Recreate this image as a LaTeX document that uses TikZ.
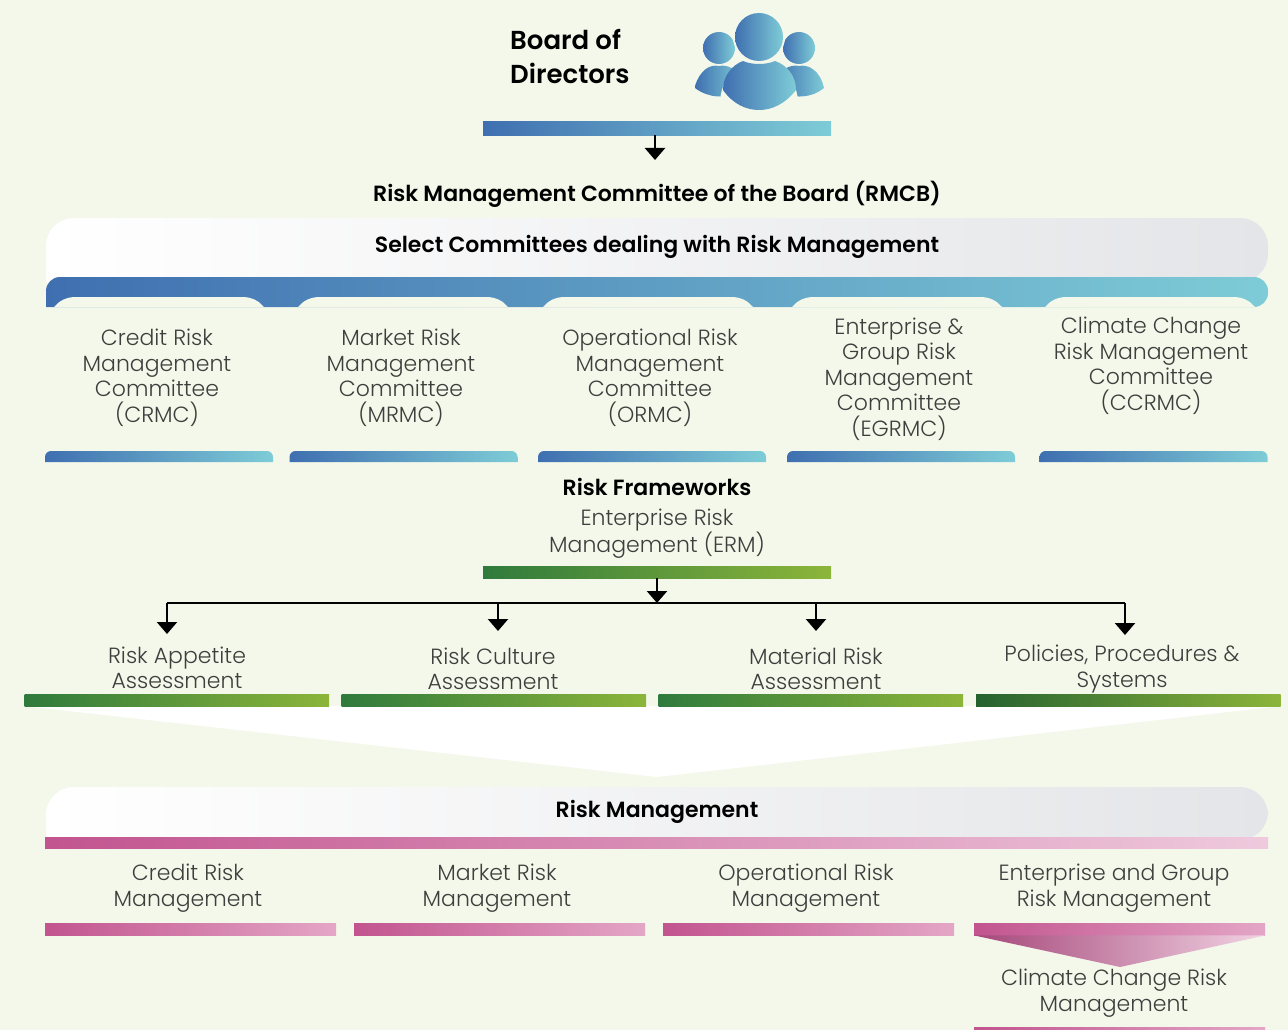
\documentclass[tikz,border=0pt]{standalone}
\usepackage{fontspec}
\setmainfont{Poppins}[UprightFont=* Light,BoldFont=* SemiBold]
\usetikzlibrary{positioning,arrows.meta,calc}

\definecolor{pagebg}{HTML}{F4F8EB}
\definecolor{txtgrey}{HTML}{3C3F3C}
\definecolor{blueL}{HTML}{3F6FB0}
\definecolor{blueR}{HTML}{7ECCD7}
\definecolor{greenL}{HTML}{2F7A3C}
\definecolor{greenR}{HTML}{8CB53A}
\definecolor{pinkL}{HTML}{C2548F}
\definecolor{pinkR}{HTML}{E4A6C6}
\definecolor{panelR}{HTML}{E4E5E8}

\tikzset{
  boxtext/.style={align=center,text=txtgrey,inner sep=0pt,font=\fontsize{22}{25.5}\selectfont},
  headtext/.style={align=center,text=black,inner sep=0pt,font=\fontsize{22}{26}\selectfont\bfseries},
  bluegrad/.style={left color=blueL,right color=blueR},
  panelgrad/.style={left color=white,right color=panelR},
  bluebar/.style={rectangle,inner sep=0pt,anchor=north west,minimum height=14pt,minimum width=348pt,bluegrad},
  greenbar/.style={rectangle,inner sep=0pt,anchor=north west,minimum height=12pt,minimum width=304.5pt,left color=greenL,right color=greenR},
  pinkbar/.style={rectangle,inner sep=0pt,anchor=north west,minimum height=12pt,minimum width=291pt,left color=pinkL,right color=pinkR},
  downarrow/.style={-{Triangle[width=20pt,length=12pt]},line width=2.5pt,black},
}

\begin{document}
\begin{tikzpicture}[x=1pt,y=-1pt]
  \fill[pagebg] (0,0) rectangle (1288,1030);
  \useasboundingbox (0,0) rectangle (1288,1030);

  % board
  \node[headtext,align=left,anchor=west,font=\fontsize{26}{34}\selectfont\bfseries] (board) at (510,56) {Board of\\Directors};
  \shade[bluegrad] (695,86) .. controls (700,70) and (710,64) .. (719,66) .. controls (728,64) and (738,70) .. (742,80) -- (742,92) .. controls (725,99) and (708,98) .. (695,88) -- cycle;
  \shade[bluegrad] (776,80) .. controls (780,70) and (790,64) .. (799,66) .. controls (808,64) and (820,70) .. (824,88) .. controls (812,98) and (795,99) .. (776,92) -- cycle;
  \shade[bluegrad] (703,32) rectangle (703,32);
  \shade[bluegrad] (719,48) circle (16);
  \shade[bluegrad] (799,48) circle (16);
  \fill[pagebg] (759,37) circle (26);
  \fill[pagebg] (759,104) ellipse (39 and 45);
  \shade[bluegrad] (759,37) circle (24);
  \shade[bluegrad] (723,90) .. controls (723,76) and (732,65) .. (743,61) .. controls (752,65) and (766,65) .. (775,61) .. controls (787,65) and (796,76) .. (796,90) .. controls (785,104) and (772,110) .. (759,110) .. controls (746,110) and (733,104) .. (723,90) -- cycle;

  \node[bluebar] (boardbar) at (483,121) {};
  \coordinate (boardend) at (655,160);
  \draw[downarrow] (boardbar.south -| boardend) -- (boardend);
  \node[headtext] (rmcb) at (657,194) {Risk Management Committee of the Board (RMCB)};

  % select committees
  \shade[panelgrad] (46,282) [rounded corners=28pt] -- (46,218) -- (1268,218) [sharp corners] [rounded corners=28pt] -- (1268,282) [sharp corners] -- cycle;
  \node[headtext] (select) at (657,247) {Select Committees dealing with Risk Management};
  \shade[bluegrad] (46,307) [rounded corners=14pt] -- (46,277) -- (1268,277) -- (1268,307) [sharp corners] -- cycle;
  \foreach \x in {54,298,543,792,1045}
    \fill[pagebg] (\x,307) .. controls (\x+5,301) and (\x+12,297) .. (\x+22,297) -- (\x+188,297) .. controls (\x+198,297) and (\x+205,301) .. (\x+210,307) -- cycle;

  \node[boxtext] (crmc) at (157,378) {Credit Risk\\Management\\Committee\\(CRMC)};
  \node[boxtext] (mrmc) at (401,378) {Market Risk\\Management\\Committee\\(MRMC)};
  \node[boxtext] (ormc) at (650,378) {Operational Risk\\Management\\Committee\\(ORMC)};
  \node[boxtext] (egrmc) at (899,379) {Enterprise \&\\Group Risk\\Management\\Committee\\(EGRMC)};
  \node[boxtext] (ccrmc) at (1151,366) {Climate Change\\Risk Management\\Committee\\(CCRMC)};
  \foreach \x in {45,289.5,538,787,1039.5}
    \shade[bluegrad] (\x,462) [rounded corners=6pt] -- (\x,451) -- (\x+228,451) [sharp corners] -- (\x+228,462) -- cycle;

  % frameworks
  \node[headtext] (frameworks) at (657,487) {Risk Frameworks};
  \node[boxtext] (erm) at (657,534) {Enterprise Risk\\Management (ERM)};
  \node[greenbar,minimum width=348pt] (ermbar) at (483,566) {};

  \coordinate (bus) at (657,603);
  \draw[line width=2.5pt] (167,603) -- (1125,603);
  \coordinate (append) at (167,634);
  \coordinate (culend) at (498,631);
  \coordinate (matend) at (816,631);
  \coordinate (polend) at (1125,635);
  \draw[downarrow] (ermbar.south -| bus) -- (bus);
  \draw[downarrow] (append |- bus) -- (append);
  \draw[downarrow] (culend |- bus) -- (culend);
  \draw[downarrow] (matend |- bus) -- (matend);
  \draw[downarrow] (polend |- bus) -- (polend);

  \node[boxtext] (appetite) at (177,668) {Risk Appetite\\Assessment};
  \node[boxtext] (culture) at (493,669) {Risk Culture\\Assessment};
  \node[boxtext] (material) at (816,669) {Material Risk\\Assessment};
  \node[boxtext] (policies) at (1122,669) {Policies, Procedures \&\\Systems};

  \fill[white] (24,706) -- (1281,706) -- (657,777) -- cycle;
  \node[greenbar] (appbar) at (24.5,694) {};
  \node[greenbar] (culbar) at (341.5,694) {};
  \node[greenbar] (matbar) at (658.5,694) {};
  \node[greenbar,left color=greenL!80!black] (polbar) at (976,694) {};

  % risk management
  \shade[panelgrad] (46,840) [rounded corners=28pt] -- (46,787) -- (1268,787) [sharp corners] [rounded corners=28pt] -- (1268,840) [sharp corners] -- cycle;
  \node[headtext] (riskmgmt) at (657,812) {Risk Management};
  \node[pinkbar,minimum width=1223pt,minimum height=11pt,right color=pinkR!60!white] (pinkband) at (45,837) {};

  \node[boxtext] (credit) at (188,888) {Credit Risk\\Management};
  \node[boxtext] (market) at (497,888) {Market Risk\\Management};
  \node[boxtext] (operational) at (806,888) {Operational Risk\\Management};
  \node[boxtext] (enterprise) at (1114,888) {Enterprise and Group\\Risk Management};
  \node[pinkbar] (credbar) at (45,923) {};
  \node[pinkbar] (markbar) at (354,923) {};
  \node[pinkbar] (opbar) at (663,923) {};
  \node[pinkbar] (entbar) at (974,923) {};
  \shade[left color=pinkL!85!black,right color=pinkR!50!white] (entbar.south west) -- (entbar.south east) -- (1120,967) -- cycle;
  \node[boxtext] (climate) at (1114,993) {Climate Change Risk\\Management};
  \node[pinkbar,minimum height=3pt] (climbar) at (974,1027) {};
\end{tikzpicture}
\end{document}
